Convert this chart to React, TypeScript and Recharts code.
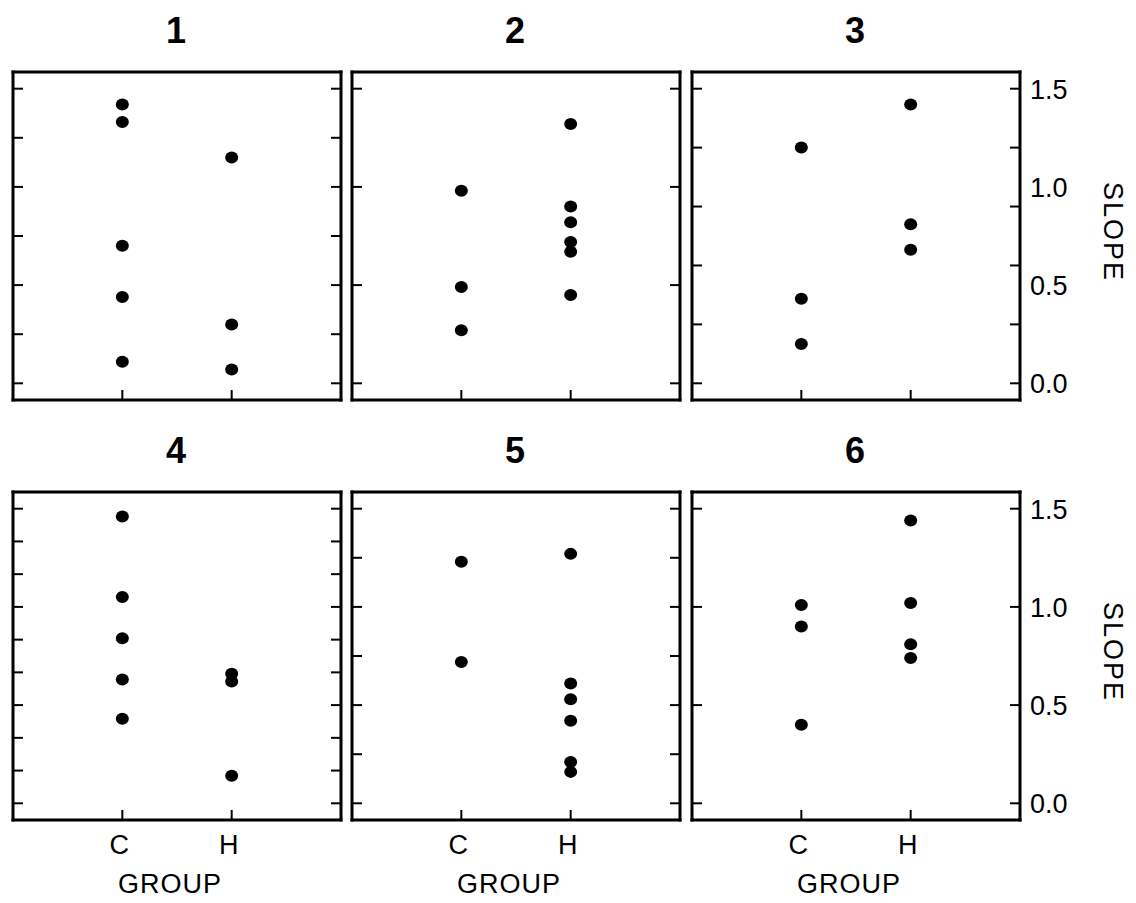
import React from 'react';
import { ScatterChart, Scatter, XAxis, YAxis } from 'recharts';

// ---- data ----
const groups = ['C', 'H'];
const groupTicks = [1, 2];
const panelTitles = ['1', '2', '3', '4', '5', '6'];

const p1C = [1.42, 1.33, 0.7, 0.44, 0.11];
const p1H = [1.15, 0.3, 0.07];
const p2C = [0.98, 0.49, 0.27];
const p2H = [1.32, 0.9, 0.82, 0.72, 0.67, 0.45];
const p3C = [1.2, 0.43, 0.2];
const p3H = [1.42, 0.81, 0.68];
const p4C = [1.46, 1.05, 0.84, 0.63, 0.43];
const p4H = [0.66, 0.62, 0.14];
const p5C = [1.23, 0.72];
const p5H = [1.27, 0.61, 0.53, 0.42, 0.21, 0.16];
const p6C = [1.01, 0.9, 0.4];
const p6H = [1.44, 1.02, 0.81, 0.74];

const ticks1 = [0, 0.25, 0.5, 0.75, 1, 1.25, 1.5];
const ticks2 = [0, 0.5, 1, 1.5];
const ticks3 = [0, 0.3, 0.6, 0.9, 1.2, 1.5];
const ticks4 = [0, 0.1667, 0.3333, 0.5, 0.6667, 0.8333, 1, 1.1667, 1.3333, 1.5];
const ticks5 = [0, 0.25, 0.5, 0.75, 1, 1.25, 1.5];
const ticks6 = [0, 0.5, 1, 1.5];
const slopeLabels = [0, 0.5, 1, 1.5];

const yTitle = 'SLOPE';
const xTitle = 'GROUP';

// ---- layout ----
const FONT = '"Liberation Sans", Arial, sans-serif';
const TXT = 27;
const PLOT_W = 328;
const PLOT_H = 328;
const PAD = 10;
const TOP_H = 72;
const Y_DOMAIN: [number, number] = [-0.085, 1.585];
const X_DOMAIN: [number, number] = [0, 3];
const colLeft = [13, 352, 692];
const rowTop = [72, 492];

type PanelProps = {
  title: string;
  c: number[];
  h: number[];
  ticks: number[];
  left: number;
  top: number;
  showGroup: boolean;
  showSlope: boolean;
};

const Dot = (props: any) => (
  <ellipse cx={props.cx} cy={props.cy} rx={6.5} ry={6} fill="#000" />
);

const near = (arr: number[], v: number) => arr.some((a) => Math.abs(a - v) < 1e-6);

function Panel({ title, c, h, ticks, left, top, showGroup, showSlope }: PanelProps) {
  const data = [
    ...c.map((v) => ({ x: 1, y: v })),
    ...h.map((v) => ({ x: 2, y: v })),
  ];
  const T = TOP_H;
  const B = showGroup ? 90 : PAD;
  const L = PAD;
  const R = showSlope ? 120 : PAD;
  const width = L + PLOT_W + R;
  const height = T + PLOT_H + B;
  const frame = { stroke: '#000', strokeWidth: 3, strokeLinecap: 'square' as const };
  const tickStroke = { stroke: '#000', strokeWidth: 2 };

  const rightTickValues = showSlope
    ? Array.from(new Set([...ticks, ...slopeLabels])).sort((a, b) => a - b)
    : ticks;

  const topTick = (p: any) => (
    <line x1={p.x} y1={p.y} x2={p.x} y2={p.y + 10} {...tickStroke} />
  );
  const bottomTick = (p: any) => (
    <g>
      <line x1={p.x} y1={p.y} x2={p.x} y2={p.y - 10} {...tickStroke} />
      {showGroup && (
        <text
          x={p.x - 3}
          y={p.y + 34}
          textAnchor="middle"
          fontSize={TXT}
          fontFamily={FONT}
          fill="#000"
        >
          {groups[p.payload.value - 1]}
        </text>
      )}
    </g>
  );
  const leftTick = (p: any) => (
    <line x1={p.x} y1={p.y} x2={p.x + 10} y2={p.y} {...tickStroke} />
  );
  const rightTick = (p: any) => {
    const v = p.payload.value;
    return (
      <g>
        {near(ticks, v) && (
          <line x1={p.x} y1={p.y} x2={p.x - 10} y2={p.y} {...tickStroke} />
        )}
        {showSlope && near(slopeLabels, v) && (
          <text
            x={p.x + 10}
            y={p.y + 10}
            textAnchor="start"
            fontSize={TXT}
            fontFamily={FONT}
            fill="#000"
          >
            {v.toFixed(1)}
          </text>
        )}
      </g>
    );
  };

  const titleLabel = () => (
    <text
      x={L + PLOT_W / 2 - 1}
      y={T - 29}
      textAnchor="middle"
      fontSize={36}
      fontWeight="bold"
      fontFamily={FONT}
      fill="#000"
    >
      {title}
    </text>
  );
  const groupLabel = () => (
    <text
      x={L + PLOT_W / 2 - 7}
      y={T + PLOT_H + 73}
      textAnchor="middle"
      fontSize={TXT}
      fontFamily={FONT}
      letterSpacing={1}
      fill="#000"
    >
      {xTitle}
    </text>
  );
  const slopeLabel = () => {
    const cx = L + PLOT_W + 93;
    const cy = T + PLOT_H / 2 - 4;
    return (
      <text
        transform={`translate(${cx},${cy}) rotate(90)`}
        textAnchor="middle"
        dominantBaseline="central"
        fontSize={TXT}
        fontFamily={FONT}
        letterSpacing={2}
        fill="#000"
      >
        {yTitle}
      </text>
    );
  };

  return (
    <div style={{ position: 'absolute', left: left - L, top: top - T, width, height }}>
      <ScatterChart width={width} height={height} margin={{ top: 0, right: 0, bottom: 0, left: 0 }}>
        <XAxis
          xAxisId="top"
          orientation="top"
          type="number"
          domain={X_DOMAIN}
          allowDataOverflow
          ticks={groupTicks}
          interval={0}
          height={T}
          axisLine={frame}
          tickLine={false}
          tickSize={0}
          tickMargin={0}
          tick={topTick}
          label={titleLabel}
        />
        <XAxis
          xAxisId="bot"
          orientation="bottom"
          type="number"
          dataKey="x"
          domain={X_DOMAIN}
          allowDataOverflow
          ticks={groupTicks}
          interval={0}
          height={B}
          axisLine={frame}
          tickLine={false}
          tickSize={0}
          tickMargin={0}
          tick={bottomTick}
          label={showGroup ? groupLabel : undefined}
        />
        <YAxis
          yAxisId="left"
          orientation="left"
          type="number"
          dataKey="y"
          domain={Y_DOMAIN}
          allowDataOverflow
          ticks={ticks}
          interval={0}
          width={L}
          axisLine={frame}
          tickLine={false}
          tickSize={0}
          tickMargin={0}
          tick={leftTick}
        />
        <YAxis
          yAxisId="right"
          orientation="right"
          type="number"
          domain={Y_DOMAIN}
          allowDataOverflow
          ticks={rightTickValues}
          interval={0}
          width={R}
          axisLine={frame}
          tickLine={false}
          tickSize={0}
          tickMargin={0}
          tick={rightTick}
          label={showSlope ? slopeLabel : undefined}
        />
        <Scatter
          data={data}
          xAxisId="bot"
          yAxisId="left"
          fill="#000"
          shape={Dot}
          isAnimationActive={false}
        />
      </ScatterChart>
    </div>
  );
}

export default function App() {
  const cs = [p1C, p2C, p3C, p4C, p5C, p6C];
  const hs = [p1H, p2H, p3H, p4H, p5H, p6H];
  const tk = [ticks1, ticks2, ticks3, ticks4, ticks5, ticks6];
  return (
    <div
      style={{
        position: 'absolute',
        left: 0,
        top: 0,
        width: 1136,
        height: 903,
        background: '#fff',
        overflow: 'hidden',
      }}
    >
      {panelTitles.map((t, i) => {
        const row = Math.floor(i / 3);
        const col = i % 3;
        return (
          <Panel
            key={t}
            title={t}
            c={cs[i]}
            h={hs[i]}
            ticks={tk[i]}
            left={colLeft[col]}
            top={rowTop[row]}
            showGroup={row === 1}
            showSlope={col === 2}
          />
        );
      })}
    </div>
  );
}
